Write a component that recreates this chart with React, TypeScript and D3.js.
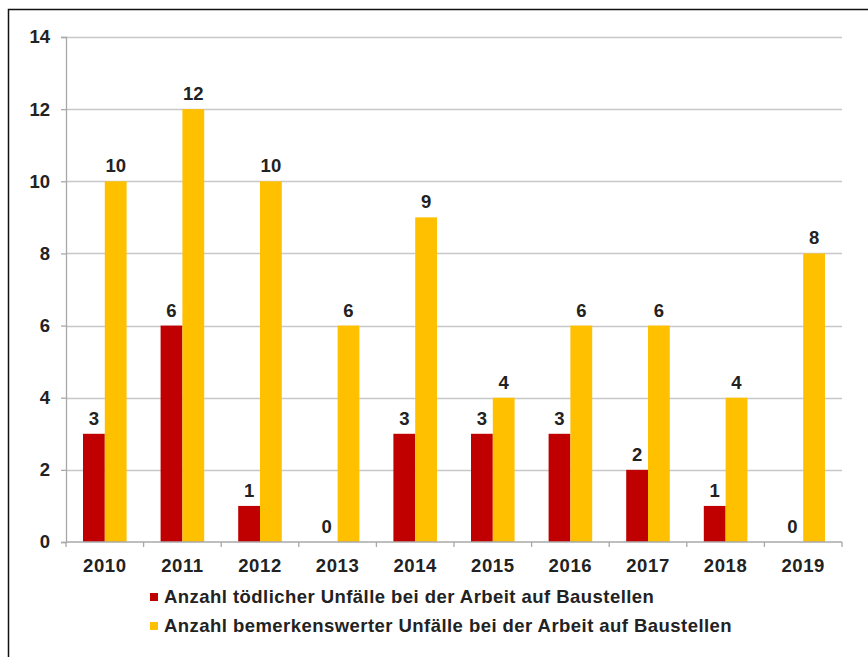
import { useEffect, useRef } from "react";
import * as d3 from "d3";

const years = ["2010", "2011", "2012", "2013", "2014", "2015", "2016", "2017", "2018", "2019"];
const fatal = [3, 6, 1, 0, 3, 3, 3, 2, 1, 0];
const notable = [10, 12, 10, 6, 9, 4, 6, 6, 4, 8];
const yTicks = [0, 2, 4, 6, 8, 10, 12, 14];
const seriesNames = [
  "Anzahl tödlicher Unfälle bei der Arbeit auf Baustellen",
  "Anzahl bemerkenswerter Unfälle bei der Arbeit auf Baustellen"
];
const colors = ["#C00000", "#FFC000"];

const W = 868, H = 657;
const FONT = "'Liberation Sans', Arial, sans-serif";
const FS = 18.5;

export default function App() {
  const ref = useRef<SVGSVGElement | null>(null);

  useEffect(() => {
    const svg = d3.select(ref.current);
    svg.selectAll("*").remove();

    const m = { l: 66, r: 842, t: 37, b: 542 };

    svg.append("rect").attr("width", W).attr("height", H).attr("fill", "white");

    // outer frame (only top and left visible)
    svg.append("path")
      .attr("d", `M 8.5 ${H} L 8.5 9.5 L ${W} 9.5`)
      .attr("fill", "none")
      .attr("stroke", "#111")
      .attr("stroke-width", 1.5);

    const x = d3.scaleBand<string>().domain(years).range([m.l, m.r]).paddingInner(0).paddingOuter(0);
    const y = d3.scaleLinear().domain([0, 14]).range([m.b, m.t]);

    const sub = d3.scaleBand<number>().domain([0, 1]).range([0, x.bandwidth()]).paddingOuter(0.78).paddingInner(0);

    // grid
    svg.append("g")
      .selectAll("line")
      .data(yTicks.filter(d => d > 0))
      .enter()
      .append("line")
      .attr("x1", m.l).attr("x2", m.r)
      .attr("y1", d => Math.round(y(d)) + 0.5).attr("y2", d => Math.round(y(d)) + 0.5)
      .attr("stroke", "#c8c8c8")
      .attr("stroke-width", 1.6);

    // y axis
    const ay = d3.axisLeft(y).tickValues(yTicks).tickSize(5).tickPadding(11);
    svg.append("g")
      .attr("transform", `translate(${m.l},0)`)
      .call(ay as any)
      .call((g: any) => g.selectAll("path,line").attr("stroke", "#a8a8a8").attr("stroke-width", 1.3))
      .call((g: any) => g.selectAll("text")
        .attr("fill", "#222").attr("font-size", FS).attr("font-weight", "bold").attr("font-family", FONT));

    // bars
    const data = [fatal, notable];
    data.forEach((vals, s) => {
      svg.append("g")
        .selectAll("rect")
        .data(vals)
        .enter()
        .append("rect")
        .attr("x", (_, i) => (x(years[i]) ?? 0) + (sub(s) ?? 0))
        .attr("width", sub.bandwidth())
        .attr("y", d => y(d))
        .attr("height", d => y(0) - y(d))
        .attr("fill", colors[s]);

      svg.append("g")
        .selectAll("text")
        .data(vals)
        .enter()
        .append("text")
        .attr("x", (_, i) => (x(years[i]) ?? 0) + (sub(s) ?? 0) + sub.bandwidth() / 2)
        .attr("y", d => y(d) - 9)
        .attr("text-anchor", "middle")
        .attr("fill", "#222")
        .attr("font-size", FS)
        .attr("font-weight", "bold")
        .attr("font-family", FONT)
        .text(d => String(d));
    });

    // x axis
    svg.append("line")
      .attr("x1", m.l).attr("x2", m.r)
      .attr("y1", y(0)).attr("y2", y(0))
      .attr("stroke", "#a8a8a8").attr("stroke-width", 1.5);
    const bounds = years.map(yr => x(yr) ?? 0).concat([m.r]);
    svg.append("g")
      .selectAll("line")
      .data(bounds)
      .enter()
      .append("line")
      .attr("x1", d => d).attr("x2", d => d)
      .attr("y1", y(0)).attr("y2", y(0) + 5)
      .attr("stroke", "#a8a8a8").attr("stroke-width", 1.3);
    svg.append("g")
      .selectAll("text")
      .data(years)
      .enter()
      .append("text")
      .attr("x", d => (x(d) ?? 0) + x.bandwidth() / 2)
      .attr("y", y(0) + 30)
      .attr("text-anchor", "middle")
      .attr("fill", "#222")
      .attr("font-size", FS)
      .attr("font-weight", "bold")
      .attr("letter-spacing", 0.6)
      .attr("font-family", FONT)
      .text(d => d);

    // legend
    const lg = svg.append("g");
    seriesNames.forEach((name, i) => {
      const ly = 603 + i * 29;
      lg.append("rect")
        .attr("x", 150).attr("y", ly - 10)
        .attr("width", 8).attr("height", 8)
        .attr("fill", colors[i]);
      lg.append("text")
        .attr("x", 164).attr("y", ly)
        .attr("fill", "#222")
        .attr("font-size", FS)
        .attr("font-weight", "bold")
        .attr("letter-spacing", 0.45)
        .attr("font-family", FONT)
        .text(name);
    });
  }, []);

  return (
    <div style={{ position: "absolute", left: 0, top: 0 }}>
      <svg ref={ref} width={W} height={H} style={{ display: "block" }} />
    </div>
  );
}
